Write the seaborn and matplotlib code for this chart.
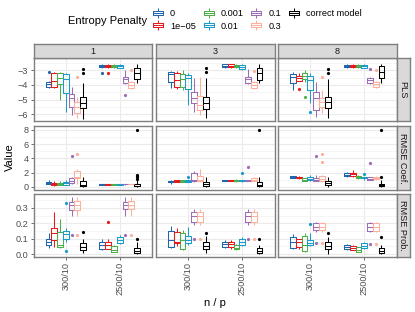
import numpy as np
import pandas as pd
import matplotlib
matplotlib.use("Agg")
import matplotlib.pyplot as plt
import seaborn as sns
from matplotlib.path import Path
from matplotlib.lines import Line2D
from matplotlib.ticker import AutoMinorLocator, FixedLocator, FixedFormatter

plt.rcParams['font.family'] = ['Liberation Sans', 'DejaVu Sans']

penalties = ["0", "1e\u221205", "0.001", "0.01", "0.1", "0.3", "correct model"]
colors = ["#2166AC", "#E41A1C", "#4DAF4A", "#1B9BC9", "#9C6DB5", "#FDB09A", "#000000"]
np_levels = ["300/10", "2500/10"]
components = ["1", "3", "8"]
metrics = ["PLS", "RMSE Coef.", "RMSE Prob."]

# (lower whisker, Q1, median, Q3, upper whisker, outliers); 300/10 x penalties, then 2500/10 x penalties
pls_1 = [(-4.23, -4.16, -3.93, -3.77, -3.75, [-3.1]), (-4.2, -4.12, -3.75, -3.19, -3.13, []),
         (-5.03, -3.93, -3.54, -3.19, -3.12, []), (-5.84, -4.53, -3.6, -3.26, -3.2, []),
         (-6.07, -5.5, -4.92, -4.62, -4.12, []), (-6.3, -5.95, -5.5, -5.15, -4.8, [-3.47]),
         (-6.35, -5.6, -5.22, -4.8, -3.84, [-2.92, -3.19]),
         (-2.8, -2.75, -2.68, -2.6, -2.55, [-3.2]), (-2.8, -2.74, -2.68, -2.6, -2.56, [-3.2]),
         (-2.8, -2.75, -2.69, -2.61, -2.57, []), (-2.85, -2.8, -2.72, -2.62, -2.58, []),
         (-3.9, -3.84, -3.6, -3.43, -2.95, [-4.69]), (-4.3, -4.23, -4.0, -3.77, -3.7, [-2.97]),
         (-3.88, -3.6, -3.2, -2.85, -2.55, [])]
pls_3 = [(-4.23, -3.77, -3.26, -3.12, -3.01, []), (-4.25, -4.12, -3.66, -3.19, -3.01, []),
         (-4.34, -4.16, -3.59, -3.24, -2.98, []), (-5.38, -4.3, -3.5, -3.31, -3.15, []),
         (-5.84, -5.26, -4.92, -4.5, -3.54, []), (-6.05, -5.72, -5.38, -4.76, -3.43, []),
         (-6.3, -5.68, -5.22, -4.8, -3.5, [-2.85, -3.12]),
         (-2.8, -2.75, -2.66, -2.58, -2.53, []), (-2.8, -2.76, -2.67, -2.58, -2.54, []),
         (-2.82, -2.77, -2.69, -2.6, -2.56, []), (-2.95, -2.92, -2.78, -2.6, -2.57, []),
         (-3.9, -3.84, -3.6, -3.43, -3.4, [-2.92]), (-4.28, -4.19, -4.0, -3.77, -3.72, [-3.03]),
         (-3.88, -3.66, -3.19, -2.8, -2.55, [])]
pls_8 = [(-4.34, -3.84, -3.47, -3.24, -3.12, []), (-3.75, -3.7, -3.5, -3.36, -3.15, [-4.25]),
         (-3.8, -3.6, -3.4, -3.19, -3.0, [-4.8]), (-5.26, -4.34, -3.66, -3.4, -3.15, [-5.85]),
         (-6.19, -5.72, -4.92, -4.46, -3.77, []), (-5.95, -5.5, -5.15, -4.92, -4.34, [-3.43]),
         (-6.3, -5.6, -5.15, -4.8, -3.62, [-2.92, -3.19]),
         (-2.8, -2.74, -2.67, -2.6, -2.55, []), (-2.8, -2.75, -2.68, -2.61, -2.56, []),
         (-2.82, -2.76, -2.69, -2.62, -2.57, []), (-2.86, -2.8, -2.72, -2.63, -2.58, []),
         (-3.9, -3.84, -3.65, -3.5, -3.45, [-2.92]), (-4.18, -4.12, -3.95, -3.77, -3.72, [-3.0]),
         (-3.88, -3.54, -3.08, -2.69, -2.55, [])]
coef_1 = [(0.35, 0.45, 0.55, 0.68, 1.0, []), (0.14, 0.2, 0.35, 0.56, 0.85, []),
          (0.2, 0.25, 0.38, 0.5, 0.8, []), (0.25, 0.3, 0.5, 0.7, 0.9, []),
          (0.4, 0.48, 0.8, 1.18, 1.3, [4.37]), (0.4, 1.18, 1.4, 2.2, 2.5, [4.6]),
          (0.0, 0.05, 0.3, 0.8, 1.4, []),
          (0.28, 0.3, 0.33, 0.36, 0.38, []), (0.28, 0.3, 0.33, 0.36, 0.38, []),
          (0.28, 0.3, 0.33, 0.36, 0.38, []), (0.28, 0.3, 0.33, 0.36, 0.38, []),
          (0.3, 0.32, 0.35, 0.38, 0.4, []), (0.32, 0.35, 0.38, 0.42, 0.45, []),
          (0.0, 0.05, 0.15, 0.4, 0.9, [1.1, 1.3, 1.5, 1.7, 8.0])]
coef_3 = [(0.38, 0.65, 0.75, 0.85, 0.95, []), (0.65, 0.7, 0.8, 0.88, 0.95, []),
          (0.68, 0.72, 0.8, 0.88, 0.95, []), (0.65, 0.7, 0.8, 0.9, 1.0, [1.3]),
          (0.7, 0.85, 1.0, 2.0, 2.2, []), (0.6, 0.85, 1.0, 1.5, 2.45, []),
          (0.0, 0.14, 0.4, 0.7, 1.4, []),
          (0.75, 0.8, 0.85, 0.9, 0.95, []), (0.75, 0.8, 0.85, 0.9, 0.95, []),
          (0.7, 0.8, 0.87, 0.95, 1.1, []), (0.7, 0.8, 0.88, 0.95, 1.0, [1.93]),
          (0.75, 0.8, 0.87, 0.95, 1.0, [2.73]), (0.8, 0.85, 1.0, 1.2, 1.3, []),
          (0.0, 0.05, 0.2, 0.7, 1.4, [8.0])]
coef_8 = [(1.2, 1.25, 1.35, 1.5, 1.55, []), (1.15, 1.2, 1.3, 1.4, 1.45, []),
          (0.8, 0.85, 1.0, 1.2, 1.25, []), (0.85, 0.9, 1.1, 1.4, 1.6, []),
          (0.8, 0.85, 1.0, 1.2, 1.25, [1.7, 4.35]), (0.8, 0.85, 1.1, 1.5, 1.6, [3.5, 4.55]),
          (0.0, 0.24, 0.5, 0.8, 1.4, []),
          (1.4, 1.5, 1.7, 1.97, 2.1, []), (1.4, 1.5, 1.75, 1.97, 2.35, []),
          (1.1, 1.2, 1.35, 1.55, 1.6, []), (1.0, 1.2, 1.3, 1.4, 1.8, []),
          (0.95, 1.0, 1.1, 1.3, 1.35, [3.38]), (1.0, 1.1, 1.2, 1.4, 1.45, []),
          (0.0, 0.05, 0.2, 0.45, 1.0, [1.4, 8.0])]
prob_1 = [(0.037, 0.058, 0.08, 0.095, 0.134, []), (0.047, 0.091, 0.134, 0.167, 0.275, []),
          (0.04, 0.043, 0.058, 0.145, 0.23, []), (0.075, 0.10, 0.13, 0.15, 0.17, [0.333, 0.02]),
          (0.247, 0.286, 0.32, 0.34, 0.372, [0.123]), (0.245, 0.286, 0.32, 0.345, 0.372, [0.123]),
          (0.008, 0.026, 0.047, 0.07, 0.1, [0.14]),
          (0.025, 0.03, 0.058, 0.08, 0.1, []), (0.03, 0.035, 0.06, 0.08, 0.1, [0.21]),
          (0.012, 0.015, 0.025, 0.052, 0.06, []), (0.065, 0.07, 0.09, 0.112, 0.125, []),
          (0.247, 0.29, 0.32, 0.34, 0.37, [0.123]), (0.247, 0.29, 0.32, 0.345, 0.372, [0.123]),
          (0.0, 0.005, 0.02, 0.037, 0.08, [0.1])]
prob_3 = [(0.04, 0.047, 0.09, 0.151, 0.18, []), (0.05, 0.07, 0.08, 0.145, 0.17, []),
          (0.025, 0.03, 0.09, 0.138, 0.155, []), (0.06, 0.073, 0.09, 0.117, 0.175, []),
          (0.19, 0.21, 0.25, 0.275, 0.29, [0.10]), (0.19, 0.21, 0.25, 0.275, 0.29, [0.10]),
          (0.004, 0.035, 0.055, 0.075, 0.12, [0.138]),
          (0.04, 0.047, 0.065, 0.08, 0.09, []), (0.035, 0.045, 0.065, 0.08, 0.09, []),
          (0.025, 0.03, 0.042, 0.058, 0.062, []), (0.05, 0.058, 0.08, 0.095, 0.11, []),
          (0.19, 0.21, 0.245, 0.275, 0.29, [0.10]), (0.19, 0.21, 0.245, 0.275, 0.29, [0.10]),
          (0.0, 0.008, 0.02, 0.037, 0.06, [0.1])]
prob_8 = [(0.03, 0.037, 0.075, 0.112, 0.13, []), (0.035, 0.043, 0.08, 0.095, 0.1, []),
          (0.015, 0.02, 0.058, 0.117, 0.135, []), (0.05, 0.06, 0.07, 0.09, 0.135, [0.195]),
          (0.14, 0.156, 0.178, 0.2, 0.21, [0.07]), (0.14, 0.156, 0.178, 0.2, 0.21, [0.07]),
          (0.0, 0.035, 0.05, 0.075, 0.11, [0.138]),
          (0.025, 0.03, 0.045, 0.058, 0.065, []), (0.025, 0.028, 0.04, 0.052, 0.06, []),
          (0.01, 0.015, 0.028, 0.043, 0.045, []), (0.03, 0.037, 0.05, 0.07, 0.075, []),
          (0.14, 0.15, 0.175, 0.2, 0.21, [0.065]), (0.14, 0.15, 0.175, 0.2, 0.21, [0.065]),
          (0.0, 0.008, 0.02, 0.037, 0.06, [0.108])]

panel_data = {("PLS", "1"): pls_1, ("PLS", "3"): pls_3, ("PLS", "8"): pls_8,
              ("RMSE Coef.", "1"): coef_1, ("RMSE Coef.", "3"): coef_3, ("RMSE Coef.", "8"): coef_8,
              ("RMSE Prob.", "1"): prob_1, ("RMSE Prob.", "3"): prob_3, ("RMSE Prob.", "8"): prob_8}

row_ylim = {"PLS": (-6.48, -2.14), "RMSE Coef.": (-0.39, 8.48), "RMSE Prob.": (-0.0195, 0.39)}
row_ticks = {"PLS": [-6, -5, -4, -3], "RMSE Coef.": [0, 2, 4, 6, 8], "RMSE Prob.": [0.0, 0.1, 0.2, 0.3]}
row_ticklabels = {"PLS": ["\u22126", "\u22125", "\u22124", "\u22123"], "RMSE Coef.": ["0", "2", "4", "6", "8"],
                  "RMSE Prob.": ["0.0", "0.1", "0.2", "0.3"]}


def sample_from_summary(s, block=6):
    lo, q1, med, q3, hi, outl = s
    return [lo] + [q1] * block + [med] * block + [q3] * block + [hi] + list(outl)


records = []
for (metric, comp), boxes in panel_data.items():
    for i, s in enumerate(boxes):
        npv = np_levels[i // len(penalties)]
        pen = penalties[i % len(penalties)]
        for v in sample_from_summary(s):
            records.append((metric, comp, npv, pen, v))
df = pd.DataFrame(records, columns=["metric", "comp", "np", "penalty", "value"])

W, H = 415, 312
fig = plt.figure(figsize=(W / 100, H / 100), dpi=100)
col_x = [(33.5, 152), (156, 274.5), (278, 396.5)]
row_y = [(58, 121), (126.5, 189.5), (194, 257)]
border_c = "#7F7F7F"
border_w = 1.0
strip_c = "#D9D9D9"
tick_c = "#4D4D4D"


def fax(x0, x1, y0, y1):
    return fig.add_axes([x0 / W, 1 - y1 / H, (x1 - x0) / W, (y1 - y0) / H])


palette = dict(zip(penalties, colors))
for ri, metric in enumerate(metrics):
    for ci, comp in enumerate(components):
        ax = fax(col_x[ci][0], col_x[ci][1], row_y[ri][0], row_y[ri][1])
        sub = df[(df.metric == metric) & (df.comp == comp)]
        sns.boxplot(data=sub, x="np", y="value", hue="penalty", order=np_levels,
                    hue_order=penalties, palette=palette, fill=False, width=0.75,
                    linewidth=0.75, fliersize=2.3, showcaps=False, legend=False, ax=ax,
                    flierprops=dict(marker="o"))
        for ln in ax.lines:
            if ln.get_marker() not in (None, "", "None"):
                ln.set_markerfacecolor(ln.get_markeredgecolor())
                ln.set_markeredgewidth(0)
        ax.set_xlim(-0.6, 1.6)
        ax.set_ylim(*row_ylim[metric])
        ax.set_xlabel("")
        ax.set_ylabel("")
        ax.yaxis.set_major_locator(FixedLocator(row_ticks[metric]))
        ax.yaxis.set_major_formatter(FixedFormatter(row_ticklabels[metric]))
        ax.yaxis.set_minor_locator(AutoMinorLocator(2))
        ax.set_axisbelow(True)
        ax.yaxis.grid(True, which="major", color="#EBEBEB", lw=0.8)
        ax.yaxis.grid(True, which="minor", color="#F2F2F2", lw=0.5)
        ax.xaxis.grid(True, which="major", color="#EBEBEB", lw=0.8)
        ax.set_facecolor("white")
        for sp in ax.spines.values():
            sp.set_color(border_c)
            sp.set_linewidth(border_w)
        ax.tick_params(axis="both", which="major", length=2.2, width=0.5, color="#333333",
                       labelsize=6.6, labelcolor=tick_c, pad=1.5)
        ax.tick_params(axis="y", which="minor", length=0)
        if ci != 0:
            ax.tick_params(axis="y", which="major", length=0, labelleft=False)
        if ri != len(metrics) - 1:
            ax.tick_params(axis="x", which="major", length=0, labelbottom=False)
        else:
            ax.set_xticks(range(len(np_levels)))
            ax.set_xticklabels(np_levels, rotation=90, ha="center", va="top")
        # top strips
        if ri == 0:
            sax = fax(col_x[ci][0], col_x[ci][1], 44, 58)
            sax.set_facecolor(strip_c)
            sax.set_xticks([]); sax.set_yticks([])
            for sp in sax.spines.values():
                sp.set_color(border_c); sp.set_linewidth(border_w)
            sax.text(0.5, 0.5, comp, ha="center", va="center", fontsize=6.6,
                     color="#1A1A1A", transform=sax.transAxes)
    rax = fax(396.5, 409.5, row_y[ri][0], row_y[ri][1])
    rax.set_facecolor(strip_c)
    rax.set_xticks([]); rax.set_yticks([])
    for sp in rax.spines.values():
        sp.set_color(border_c); sp.set_linewidth(border_w)
    rax.text(0.5, 0.5, metric, ha="center", va="center", fontsize=6.6, rotation=-90,
             color="#1A1A1A", transform=rax.transAxes)

fig.text(10 / W, 1 - 157.5 / H, "Value", rotation=90, ha="center", va="center", fontsize=8)
fig.text(215 / W, 1 - 303 / H, "n / p", ha="center", va="center", fontsize=8)

# legend with box-shaped keys
verts = [(-0.5, -0.25), (0.5, -0.25), (0.5, 0.25), (-0.5, 0.25), (-0.5, -0.25),
         (-0.5, 0.0), (0.5, 0.0),
         (0.0, 0.25), (0.0, 0.5),
         (0.0, -0.25), (0.0, -0.5)]
codes = [Path.MOVETO, Path.LINETO, Path.LINETO, Path.LINETO, Path.CLOSEPOLY,
         Path.MOVETO, Path.LINETO, Path.MOVETO, Path.LINETO, Path.MOVETO, Path.LINETO]
key_path = Path(verts, codes)
handles = [Line2D([], [], marker=key_path, markersize=6.5, markerfacecolor="none",
                  markeredgecolor=c, markeredgewidth=0.75, linestyle="none") for c in colors]
leg = fig.legend(handles, penalties, ncol=4, loc="upper left",
                 bbox_to_anchor=(153.5 / W, 1 - 9.5 / H), frameon=False, fontsize=6.6,
                 handlelength=1.0, handletextpad=0.8, columnspacing=0.9, labelspacing=0.35,
                 borderpad=0, borderaxespad=0)
fig.text(67.7 / W, 1 - 20.5 / H, "Entropy Penalty", ha="left", va="center", fontsize=8)

fig.savefig("out.png", dpi=100)
